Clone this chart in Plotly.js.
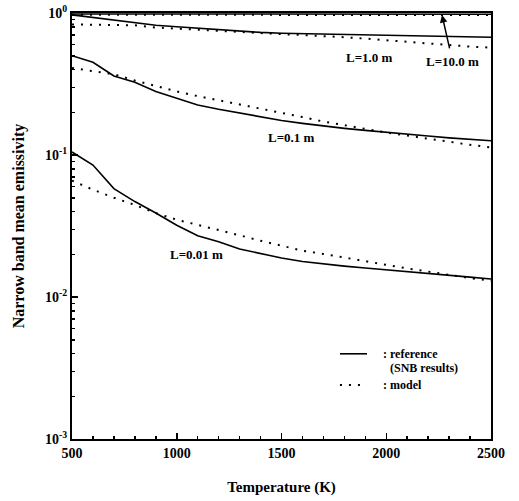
<!DOCTYPE html>
<html>
<head>
<meta charset="utf-8">
<script src="https://cdn.plot.ly/plotly-3.0.1.min.js"></script>
<style>html,body{margin:0;padding:0;background:#fff;}#chart{width:519px;height:501px;}</style>
</head>
<body>
<div id="chart"></div>
<script>
const temps = [500,600,700,800,900,1000,1100,1200,1300,1400,1500,1600,1700,1800,1900,2000,2100,2200,2300,2400,2500];

const ref_L10  = [0.985,0.985,0.983,0.983,0.982,0.982,0.982,0.982,0.981,0.981,0.981,0.981,0.981,0.981,0.981,0.981,0.981,0.981,0.981,0.981,0.981];
const mod_L10  = [0.972,0.972,0.971,0.971,0.970,0.970,0.970,0.970,0.970,0.969,0.969,0.969,0.969,0.969,0.968,0.968,0.968,0.968,0.968,0.968,0.968];

const ref_L1   = [0.97,0.93,0.89,0.85,0.82,0.80,0.78,0.765,0.745,0.73,0.72,0.715,0.71,0.705,0.70,0.70,0.695,0.69,0.685,0.68,0.675];
const mod_L1   = [0.83,0.83,0.825,0.82,0.79,0.775,0.765,0.755,0.74,0.725,0.71,0.70,0.69,0.675,0.66,0.645,0.63,0.61,0.595,0.58,0.57];

const ref_L01  = [0.50,0.45,0.36,0.325,0.28,0.25,0.225,0.21,0.197,0.185,0.175,0.167,0.160,0.154,0.149,0.144,0.140,0.136,0.132,0.129,0.126];
const mod_L01  = [0.41,0.39,0.37,0.335,0.305,0.28,0.26,0.243,0.228,0.214,0.198,0.185,0.172,0.162,0.152,0.144,0.137,0.130,0.124,0.118,0.113];

const ref_L001 = [0.105,0.085,0.058,0.047,0.039,0.032,0.027,0.0245,0.0218,0.0203,0.0188,0.0178,0.0171,0.0165,0.0160,0.0155,0.0150,0.0146,0.0142,0.0138,0.0134];
const mod_L001 = [0.066,0.057,0.050,0.0445,0.039,0.035,0.0322,0.0297,0.0272,0.0249,0.0229,0.0212,0.0201,0.0189,0.0178,0.0168,0.0159,0.0151,0.0143,0.0136,0.0130];

const yTickVals = [0.001,0.01,0.1,1];
const yTickText = ['10<sup>-3</sup>','10<sup>-2</sup>','10<sup>-1</sup>','10<sup>0</sup>'];
const xTickVals = [500,1000,1500,2000,2500];
const xTickText = ['500','1000','1500','2000','2500'];

const minorY = [];
[0.001,0.01,0.1].forEach(d => { for (let k=2;k<=9;k++) minorY.push(d*k); });

const FONT = 'Liberation Serif, Times New Roman, serif';

const solid = {color:'#000', width:1.6, dash:'solid'};
const dotted = {color:'#000', width:2, dash:'2px,7px'};

function tr(y, line){ return {x:temps, y:y, type:'scatter', mode:'lines', line:line, showlegend:false, hoverinfo:'skip'}; }

const data = [
  tr(ref_L10, solid), tr(mod_L10, dotted),
  tr(ref_L1, solid), tr(mod_L1, dotted),
  tr(ref_L01, solid), tr(mod_L01, dotted),
  tr(ref_L001, solid), tr(mod_L001, dotted),
  // legend samples
  {x:[1779,1908], y:[Math.pow(10,-2.40),Math.pow(10,-2.40)], type:'scatter', mode:'lines', line:solid, showlegend:false, hoverinfo:'skip'},
  {x:[1779,1908], y:[Math.pow(10,-2.62),Math.pow(10,-2.62)], type:'scatter', mode:'lines', line:dotted, showlegend:false, hoverinfo:'skip'}
];

const lab = (text, x, y, extra) => Object.assign({text:'<b>'+text+'</b>', x:x, y:y, xref:'x', yref:'y', showarrow:false, font:{family:FONT, size:13, color:'#000'}}, extra||{});

const layout = {
  width:519, height:501,
  margin:{l:72, r:28, t:13, b:62},
  paper_bgcolor:'#fff', plot_bgcolor:'#fff',
  font:{family:FONT, color:'#000'},
  xaxis:{
    range:[500,2500], tickmode:'array', tickvals:xTickVals, ticktext:xTickText,
    ticks:'inside', ticklen:6, tickwidth:1.5, tickcolor:'#000',
    minor:{dtick:100, ticks:'inside', ticklen:3, tickcolor:'#000', showgrid:false},
    showline:true, linecolor:'#000', linewidth:2, mirror:true,
    showgrid:false, zeroline:false,
    tickfont:{family:FONT, size:14, color:'#000', weight:'bold'},
    title:{text:'<b>Temperature (K)</b>', font:{family:FONT, size:15, color:'#000'}, standoff:22}
  },
  yaxis:{
    type:'log', range:[-3,0], tickmode:'array', tickvals:yTickVals, ticktext:yTickText,
    ticks:'inside', ticklen:6, tickwidth:1.5, tickcolor:'#000',
    minor:{tickmode:'array', tickvals:minorY, ticks:'inside', ticklen:3, tickcolor:'#000', showgrid:false},
    showline:true, linecolor:'#000', linewidth:2, mirror:true,
    showgrid:false, zeroline:false,
    tickfont:{family:FONT, size:14, color:'#000', weight:'bold'},
    title:{text:'<b>Narrow band mean emissivity</b>', font:{family:FONT, size:16, color:'#000'}, standoff:16}
  },
  annotations:[
    lab('L=1.0 m', 1922, -0.31),
    lab('L=10.0 m', 2318, -0.345),
    {x:2266, y:-0.014, ax:2304, ay:-0.26, xref:'x', yref:'y', axref:'x', ayref:'y', showarrow:true, arrowhead:2, arrowsize:1, arrowwidth:1.5, arrowcolor:'#000', text:''},
    lab('L=0.1 m', 1550, -0.88),
    lab('L=0.01 m', 1092, -1.70),
    Object.assign(lab(': reference', 1975, -2.40), {xanchor:'left', font:{family:FONT, size:12, color:'#000'}}),
    Object.assign(lab('(SNB results)', 2010, -2.50), {xanchor:'left', font:{family:FONT, size:12, color:'#000'}}),
    Object.assign(lab(': model', 1975, -2.62), {xanchor:'left', font:{family:FONT, size:12, color:'#000'}})
  ]
};

Plotly.newPlot('chart', data, layout, {staticPlot:true, displayModeBar:false});
</script>
</body>
</html>
